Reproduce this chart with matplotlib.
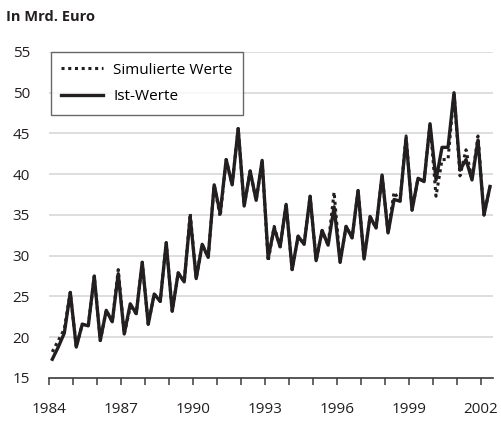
import numpy as np
import matplotlib
matplotlib.use('Agg')
import matplotlib.pyplot as plt

# quarterly values 1984 Q1 .. 2002 Q2, in Mrd. Euro
ist_werte = [17.3, 18.8, 20.5, 25.5, 18.8, 21.6, 21.4, 27.5,
             19.6, 23.3, 21.9, 27.8, 20.4, 24.1, 22.9, 29.2,
             21.6, 25.3, 24.4, 31.6, 23.2, 27.9, 26.8, 34.8,
             27.2, 31.4, 29.8, 38.7, 35.2, 41.8, 38.7, 45.6,
             36.1, 40.4, 36.8, 41.7, 29.7, 33.4, 31.1, 36.3,
             28.3, 32.4, 31.4, 37.3, 29.4, 33.1, 31.3, 36.0,
             29.2, 33.6, 32.2, 38.0, 29.6, 34.8, 33.4, 39.9,
             32.8, 36.9, 36.7, 44.4, 35.6, 39.5, 39.1, 46.2,
             39.3, 43.3, 43.3, 50.0, 40.5, 41.8, 39.3, 44.2,
             35.0, 38.5]
sim_werte = [18.2, 19.6, 21.0, 25.5, 18.8, 21.6, 21.4, 27.5,
             19.6, 23.3, 21.9, 28.3, 20.4, 23.7, 22.9, 29.2,
             21.6, 25.3, 24.4, 31.6, 23.2, 27.9, 26.8, 35.2,
             27.2, 31.4, 29.8, 38.7, 34.8, 41.8, 38.7, 45.6,
             36.1, 40.4, 36.8, 41.7, 29.3, 33.6, 31.1, 36.3,
             28.3, 32.4, 31.4, 37.3, 29.4, 33.1, 31.3, 37.8,
             29.2, 33.6, 32.2, 38.0, 29.6, 34.8, 33.4, 39.9,
             32.8, 37.8, 36.7, 44.7, 35.6, 39.5, 39.1, 46.2,
             37.3, 41.8, 41.8, 50.0, 39.8, 43.0, 39.3, 44.7,
             35.0, 38.5]
x = 1984 + (np.arange(len(ist_werte)) + 0.5) / 4

year_ticks = list(range(1984, 2003))
year_labels = [str(y) if (y - 1984) % 3 == 0 else '' for y in year_ticks]

plt.rcParams['font.family'] = ['Open Sans', 'DejaVu Sans']

fig = plt.figure(figsize=(5.01, 4.23), dpi=100)
ax = fig.add_axes([0.0984, 0.1064, 0.8856, 0.7707])

col = '#231f20'
ax.plot(x, sim_werte, color=col, lw=2.2, ls=(0, (1, 1.2)), label='Simulierte Werte', zorder=3)
ax.plot(x, ist_werte, color=col, lw=2.4, label='Ist-Werte', zorder=4)

ax.set_xlim(1984, 2002.5)
ax.set_ylim(15, 55)
ax.set_yticks(range(15, 56, 5))
ax.set_xticks(year_ticks)
ax.set_xticklabels(year_labels)

for v in range(20, 56, 5):
    ax.axhline(v, color='#d4d4d4', lw=1.1, zorder=1)

for s in ['left', 'right', 'top']:
    ax.spines[s].set_visible(False)
ax.spines['bottom'].set_color('#3a3a3a')
ax.spines['bottom'].set_linewidth(1.2)
ax.tick_params(axis='y', length=0, pad=14, labelsize=11, labelcolor='#231f20')
ax.tick_params(axis='x', length=5, width=1.1, color='#3a3a3a', pad=12,
               labelsize=11, labelcolor='#231f20')

leg = ax.legend(loc='upper left', bbox_to_anchor=(0.003, 1.0), fontsize=11,
                frameon=True, fancybox=False, handlelength=2.7, handletextpad=0.7,
                borderpad=0.7, labelspacing=0.75, borderaxespad=0)
leg.get_frame().set_edgecolor('#444444')
leg.get_frame().set_linewidth(1.0)

fig.text(0.012, 0.95, 'In Mrd. Euro', fontsize=10.5, fontweight='bold', color='#231f20')

fig.savefig('out.png', dpi=100)
